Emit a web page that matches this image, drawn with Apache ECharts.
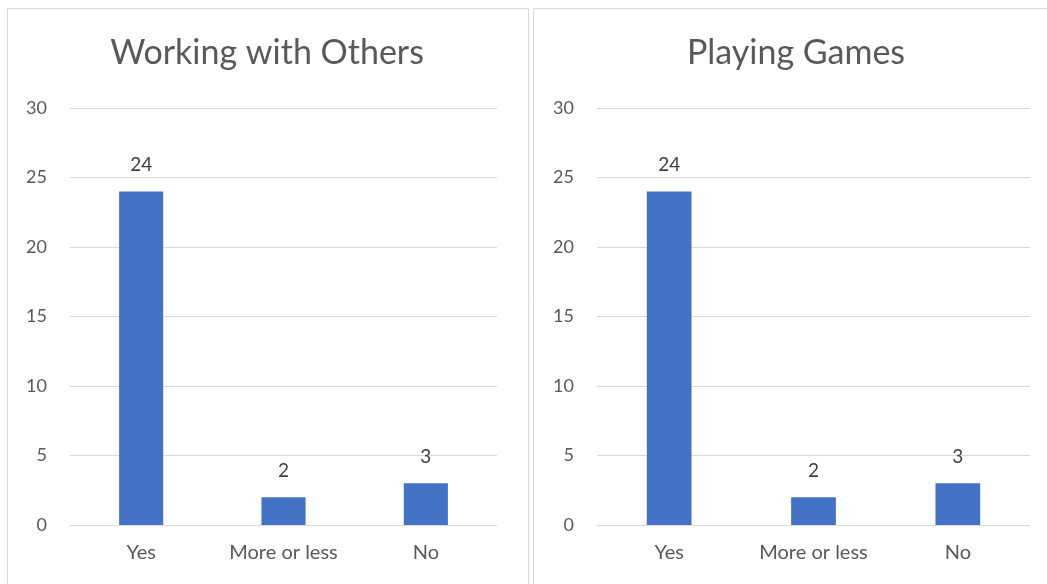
<!DOCTYPE html>
<html><head><meta charset="utf-8">
<script src="https://cdn.jsdelivr.net/npm/echarts@6/dist/echarts.min.js"></script>
<style>html,body{margin:0;padding:0;background:#fff}#c{width:1047px;height:584px}</style>
</head><body><div id="c"></div>
<script>
const titles = ["Working with Others", "Playing Games"];
const categories = ["Yes", "More or less", "No"];
const workingValues = [24, 2, 3];
const gamesValues = [24, 2, 3];
const yTicks = {min: 0, max: 30, interval: 5};

const font = "Lato";
const chart = echarts.init(document.getElementById('c'));
const grids = [
  {left: 70, top: 108, width: 427, height: 417},
  {left: 597, top: 108, width: 433, height: 417}
];
const seriesData = [workingValues, gamesValues];
chart.setOption({
  animation: false,
  graphic: [
    {type: 'rect', shape: {x: 7.5, y: 8.5, width: 521, height: 600}, style: {fill: 'none', stroke: '#d9d9d9', lineWidth: 1}},
    {type: 'rect', shape: {x: 533.5, y: 8.5, width: 520, height: 600}, style: {fill: 'none', stroke: '#d9d9d9', lineWidth: 1}}
  ],
  title: titles.map((t, i) => ({
    text: t, left: i === 0 ? 262 : 791, top: 31, textAlign: 'center',
    textStyle: {fontFamily: font, fontSize: 34, fontWeight: 'normal', color: '#595959'}
  })),
  grid: grids,
  xAxis: grids.map((g, i) => ({
    type: 'category', gridIndex: i, data: categories,
    axisLine: {show: false}, axisTick: {show: false},
    axisLabel: {fontFamily: font, fontSize: 20, color: '#595959', margin: 18}
  })),
  yAxis: grids.map((g, i) => ({
    type: 'value', gridIndex: i, min: yTicks.min, max: yTicks.max, interval: yTicks.interval,
    axisLine: {show: false}, axisTick: {show: false},
    splitLine: {lineStyle: {color: '#d9d9d9', width: 1}},
    axisLabel: {fontFamily: font, fontSize: 18, color: '#595959', margin: 23}
  })),
  series: seriesData.map((d, i) => ({
    type: 'bar', xAxisIndex: i, yAxisIndex: i, data: d, barWidth: '31%',
    itemStyle: {color: '#4472C4'},
    label: {show: true, position: 'top', distance: 17, fontFamily: font, fontSize: 19, color: '#404040'}
  }))
});
</script></body></html>
